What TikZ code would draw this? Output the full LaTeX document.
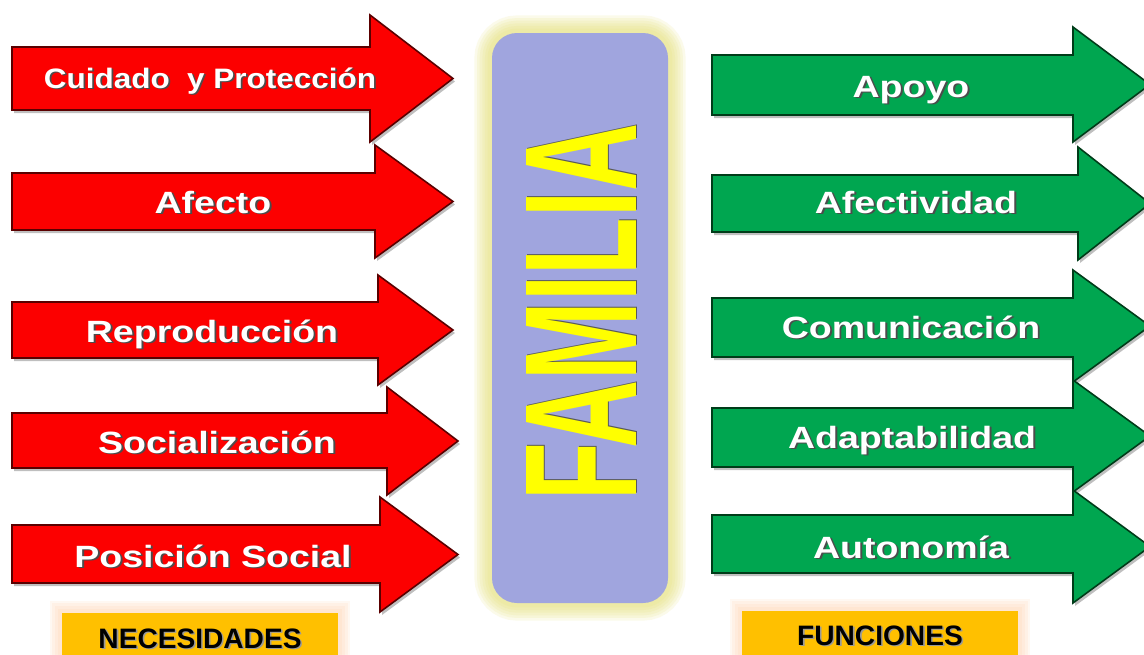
\documentclass[tikz,border=0pt]{standalone}
\usepackage{fontspec}
\setmainfont{Liberation Sans}
\usepackage{graphicx}
\usetikzlibrary{positioning}

\definecolor{rojo}{RGB}{252,0,0}
\definecolor{rojooscuro}{RGB}{90,0,0}
\definecolor{verde}{RGB}{0,166,80}
\definecolor{verdeoscuro}{RGB}{0,60,25}
\definecolor{lila}{RGB}{160,165,222}
\definecolor{amarillo}{RGB}{255,255,0}
\definecolor{brillo}{RGB}{228,222,110}
\definecolor{naranja}{RGB}{255,192,0}
\definecolor{naranjaclaro}{RGB}{255,180,120}

% texto con sombra
\newcommand{\sombra}[2]{\makebox[0pt][l]{\hspace{0.9pt}\raisebox{-0.9pt}{\textcolor{#1}{#2}}}#2}

\tikzset{
  flecharoja/.style={fill=rojo, draw=rojooscuro, line width=0.9pt},
  flechaverde/.style={fill=verde, draw=verdeoscuro, line width=0.9pt},
  sombraflecha/.style={fill=black, opacity=0.25},
  etiq/.style={anchor=base, inner sep=0pt, text=white, font=\bfseries\fontsize{17.5}{18}\selectfont},
  rotulo/.style={anchor=base, inner sep=0pt, text=black, font=\bfseries\fontsize{16}{17}\selectfont},
}

\begin{document}
\begin{tikzpicture}[x=0.02cm, y=-0.02cm]
\useasboundingbox (0,0) rectangle (1144,654);
\fill [white] (0,0) rectangle (1144,654);

% caja central
\foreach \w in {20,17,14,11,8,5}
  \draw [draw=brillo, line width=\w pt, opacity=0.14, rounded corners=0.5cm] (492,33) rectangle (668,603);
\fill [lila, rounded corners=0.5cm] (492,33) rectangle (668,603);
\node [rotate=90, inner sep=0pt, text=amarillo, font=\bfseries\fontsize{91}{91}\selectfont] (familia) at (582,312)
  {\scalebox{0.59}[1]{\sombra{black!65}{FAMILIA}}};

% flechas rojas (necesidades)
\foreach \yt/\yb/\ht/\hb/\xh/\xt in {47/110/15/142/370/453, 173/230/145/258/375/453,
    302/358/275/385/378/453, 413/468/387/495/387/458, 525/583/497/612/380/458} {
  \pgfmathsetmacro{\ym}{(\ht+\hb)/2}
  \fill [sombraflecha, shift={(2,3)}] (12,\yt) -- (\xh,\yt) -- (\xh,\ht) -- (\xt,\ym) -- (\xh,\hb) -- (\xh,\yb) -- (12,\yb) -- cycle;
  \draw [flecharoja] (12,\yt) -- (\xh,\yt) -- (\xh,\ht) -- (\xt,\ym) -- (\xh,\hb) -- (\xh,\yb) -- (12,\yb) -- cycle;
}

% flechas verdes (funciones)
\foreach \yt/\yb/\ht/\hb/\xh/\xt in {55/115/27/142/1073/1150, 175/232/147/260/1078/1150,
    298/357/270/382/1073/1150, 408/467/380/492/1073/1150, 515/573/490/603/1073/1150} {
  \pgfmathsetmacro{\ym}{(\ht+\hb)/2}
  \fill [sombraflecha, shift={(2,3)}] (712,\yt) -- (\xh,\yt) -- (\xh,\ht) -- (\xt,\ym) -- (\xh,\hb) -- (\xh,\yb) -- (712,\yb) -- cycle;
  \draw [flechaverde] (712,\yt) -- (\xh,\yt) -- (\xh,\ht) -- (\xt,\ym) -- (\xh,\hb) -- (\xh,\yb) -- (712,\yb) -- cycle;
}

% textos de las flechas
\node [etiq, font=\bfseries\fontsize{16}{17}\selectfont] (cuidado) at (210,88) {\scalebox{1.12}[1]{\sombra{black!70}{Cuidado\ \ y Protección}}};
\node [etiq] (afecto) at (213,213) {\scalebox{1.22}[1]{\sombra{black!70}{Afecto}}};
\node [etiq] (reproduccion) at (212,342) {\scalebox{1.22}[1]{\sombra{black!70}{Reproducción}}};
\node [etiq] (socializacion) at (217,453) {\scalebox{1.22}[1]{\sombra{black!70}{Socialización}}};
\node [etiq] (posicion) at (213,567) {\scalebox{1.22}[1]{\sombra{black!70}{Posición Social}}};

\node [etiq] (apoyo) at (911,97) {\scalebox{1.22}[1]{\sombra{black!70}{Apoyo}}};
\node [etiq] (afectividad) at (916,213) {\scalebox{1.22}[1]{\sombra{black!70}{Afectividad}}};
\node [etiq] (comunicacion) at (911,338) {\scalebox{1.22}[1]{\sombra{black!70}{Comunicación}}};
\node [etiq] (adaptabilidad) at (912,448) {\scalebox{1.22}[1]{\sombra{black!70}{Adaptabilidad}}};
\node [etiq] (autonomia) at (911,558) {\scalebox{1.22}[1]{\sombra{black!70}{Autonomía}}};

% rotulos inferiores
\foreach \w in {14,11,8,5} {
  \draw [draw=naranjaclaro, line width=\w pt, opacity=0.09] (62,613) rectangle (338,670);
  \draw [draw=naranjaclaro, line width=\w pt, opacity=0.09] (742,611) rectangle (1018,670);
}
\fill [naranja] (62,613) rectangle (338,670);
\fill [naranja] (742,611) rectangle (1018,670);
\node [rotulo] (necesidades) at (200,648) {\sombra{black!40}{NECESIDADES}};
\node [rotulo] (funciones) at (880,645) {\sombra{black!40}{FUNCIONES}};
\end{tikzpicture}
\end{document}
